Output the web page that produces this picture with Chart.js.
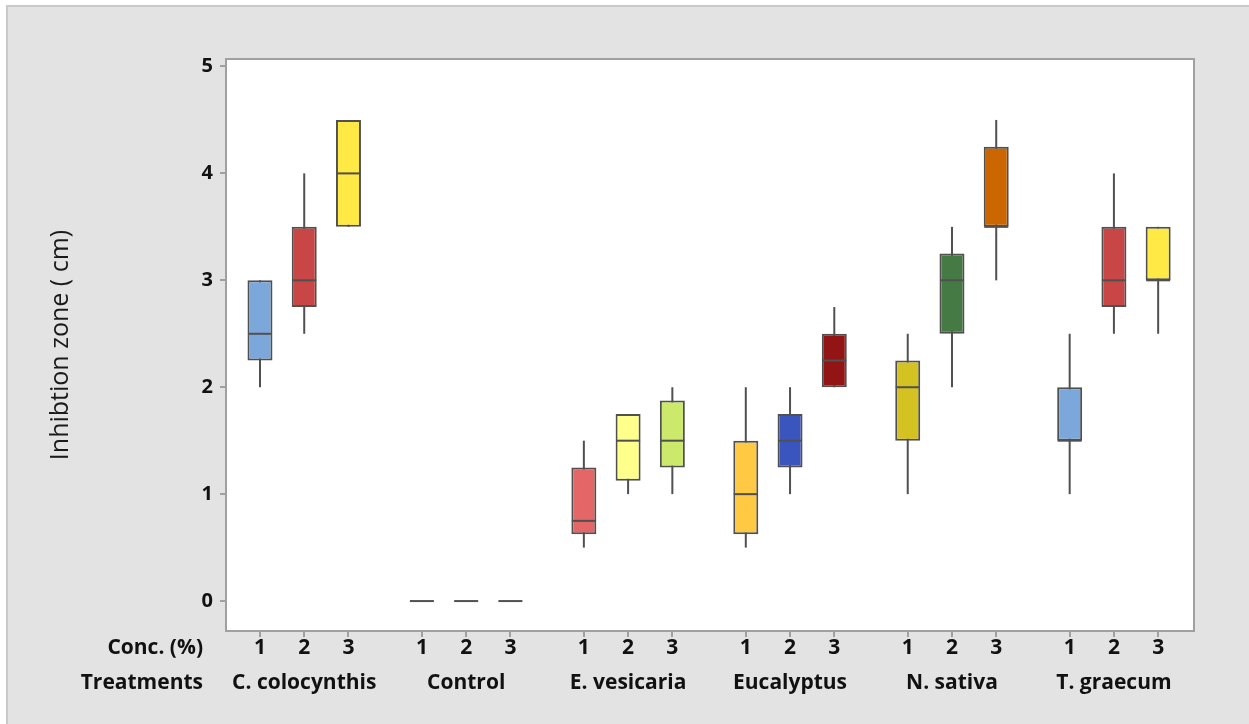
<!DOCTYPE html>
<html>
<head>
<meta charset="utf-8">
<title>Inhibition zone boxplot</title>
<script src="https://cdn.jsdelivr.net/npm/chart.js@4.4.1/dist/chart.umd.min.js"></script>
<style>
  html, body { margin: 0; padding: 0; background: #fff; }
  #frame {
    position: absolute; left: 6px; top: 5px; width: 1243px; height: 719px;
    background: #e3e3e3; border-left: 2px solid #c9c9c9; border-top: 2px solid #c9c9c9;
    box-sizing: border-box;
  }
  #wrap { position: absolute; left: 0; top: 0; width: 1249px; height: 724px; }
</style>
</head>
<body>
<div id="frame"></div>
<div id="wrap"><canvas id="boxChart" width="1249" height="724"></canvas></div>
<script>
'use strict';

// ── Data ──────────────────────────────────────
const TREATMENTS = ['C. colocynthis', 'Control', 'E. vesicaria', 'Eucalyptus', 'N. sativa', 'T. graecum'];
const CONC       = ['1', '2', '3'];
const Y_TICKS    = [0, 1, 2, 3, 4, 5];

// one entry per box, treatment by treatment, conc 1..3
const MIN_VALS = [2.0,  2.5,  3.5,   0, 0, 0,   0.5,   1.0,   1.0,    0.5,   1.0,  2.0,    1.0,  2.0,  3.0,   1.0, 2.5,  2.5];
const Q1_VALS  = [2.25, 2.75, 3.5,   0, 0, 0,   0.625, 1.125, 1.25,   0.625, 1.25, 2.0,    1.5,  2.5,  3.5,   1.5, 2.75, 3.0];
const MED_VALS = [2.5,  3.0,  4.0,   0, 0, 0,   0.75,  1.5,   1.5,    1.0,   1.5,  2.25,   2.0,  3.0,  3.5,   1.5, 3.0,  3.0];
const Q3_VALS  = [3.0,  3.5,  4.5,   0, 0, 0,   1.25,  1.75,  1.875,  1.5,   1.75, 2.5,    2.25, 3.25, 4.25,  2.0, 3.5,  3.5];
const MAX_VALS = [3.0,  4.0,  4.5,   0, 0, 0,   1.5,   1.75,  2.0,    2.0,   2.0,  2.75,   2.5,  3.5,  4.5,   2.5, 4.0,  3.5];

const BOX_COLORS = [
  '#7BA7DB', '#C84646', '#FFE944',
  '#999999', '#999999', '#999999',
  '#E46666', '#FFFF8C', '#CCE96C',
  '#FFC943', '#3B55BE', '#921414',
  '#D4C122', '#457A44', '#CC6600',
  '#7BA7DB', '#C84646', '#FFE944'
];

// ── Layout helpers ────────────────────────────
const GROUP_STEP = 3.66;          // distance between treatment groups, in box slots
const LINE_COL   = '#505050';
const AXIS_COL   = '#a0a0a0';
const FONT       = '"Open Sans", "DejaVu Sans", sans-serif';

const xPos = [];
const tickLabels = [];
TREATMENTS.forEach((t, g) => {
  CONC.forEach((c, k) => {
    xPos.push(g * GROUP_STEP + k);
    tickLabels.push(k === 1 ? [c, '', t] : [c]);
  });
});

const pairs  = (lo, hi) => xPos.map((x, i) => ({ x, y: [lo[i], hi[i]] }));
const points = vals => xPos.map((x, i) => ({ x, y: vals[i] }));

// ── Plugins ───────────────────────────────────
const plotFrame = {
  id: 'plotFrame',
  beforeDraw(chart) {
    const { ctx, chartArea: a } = chart;
    ctx.save();
    ctx.fillStyle = '#fff';
    ctx.fillRect(a.left, a.top, a.right - a.left, a.bottom - a.top);
    ctx.restore();
  },
  beforeDatasetsDraw(chart) {
    const { ctx, chartArea: a } = chart;
    ctx.save();
    ctx.strokeStyle = AXIS_COL;
    ctx.lineWidth = 2;
    ctx.strokeRect(a.left, a.top, a.right - a.left, a.bottom - a.top);
    ctx.restore();
  },
  afterDraw(chart) {
    const { ctx, chartArea: a } = chart;
    ctx.save();
    ctx.fillStyle = '#111';
    ctx.font = 'bold 21px ' + FONT;
    ctx.textAlign = 'right';
    ctx.textBaseline = 'middle';
    ctx.fillText('Conc. (%)', 203, a.bottom + 17);
    ctx.fillText('Treatments', 203, a.bottom + 52);
    ctx.restore();
  }
};

// ── Chart ─────────────────────────────────────
const ctx = document.getElementById('boxChart').getContext('2d');
new Chart(ctx, {
  type: 'bar',
  data: {
    datasets: [
      {
        label: 'median',
        type: 'line',
        data: points(MED_VALS),
        showLine: false,
        pointStyle: 'line',
        pointRadius: 12,
        pointHoverRadius: 12,
        pointBorderWidth: 2,
        pointBorderColor: LINE_COL,
        order: 1
      },
      {
        label: 'box',
        data: pairs(Q1_VALS, Q3_VALS),
        backgroundColor: BOX_COLORS,
        borderColor: LINE_COL,
        borderWidth: 2,
        borderSkipped: false,
        grouped: false,
        maxBarThickness: 25,
        order: 2
      },
      {
        label: 'whisker',
        data: pairs(MIN_VALS, MAX_VALS),
        backgroundColor: LINE_COL,
        borderWidth: 0,
        grouped: false,
        maxBarThickness: 2,
        order: 3
      }
    ]
  },
  options: {
    responsive: false,
    animation: false,
    layout: { padding: { top: 59, right: 55, left: 0, bottom: 0 } },
    plugins: { legend: { display: false }, tooltip: { enabled: false } },
    scales: {
      x: {
        type: 'linear',
        offset: false,
        min: -0.768,
        max: 21.11,
        afterBuildTicks: s => { s.ticks = xPos.map(v => ({ value: v })); },
        afterFit: s => { s.height = 93; },
        grid: { offset: false, drawOnChartArea: false, drawTicks: true, tickLength: 6, color: AXIS_COL, lineWidth: 2 },
        border: { color: AXIS_COL, width: 2 },
        ticks: {
          autoSkip: false, maxRotation: 0, minRotation: 0, padding: 2,
          color: '#111',
          font: { family: FONT, size: 21, weight: 'bold', lineHeight: '17.5px' },
          callback: (v, i) => tickLabels[i]
        }
      },
      y: {
        min: -0.28,
        max: 5.07,
        afterBuildTicks: s => { s.ticks = Y_TICKS.map(v => ({ value: v })); },
        afterFit: s => { s.width = 226; },
        grid: { drawOnChartArea: false, drawTicks: true, tickLength: 6, color: AXIS_COL, lineWidth: 2 },
        border: { color: AXIS_COL, width: 2 },
        title: {
          display: true,
          text: 'Inhibtion zone ( cm)',
          color: '#1a1a1a',
          font: { family: FONT, size: 25, weight: '400' },
          padding: { top: 46, bottom: 0 }
        },
        ticks: {
          padding: 7,
          color: '#111',
          font: { family: FONT, size: 20, weight: 'bold' },
          callback: v => String(v)
        }
      }
    }
  },
  plugins: [plotFrame]
});
</script>
</body>
</html>
